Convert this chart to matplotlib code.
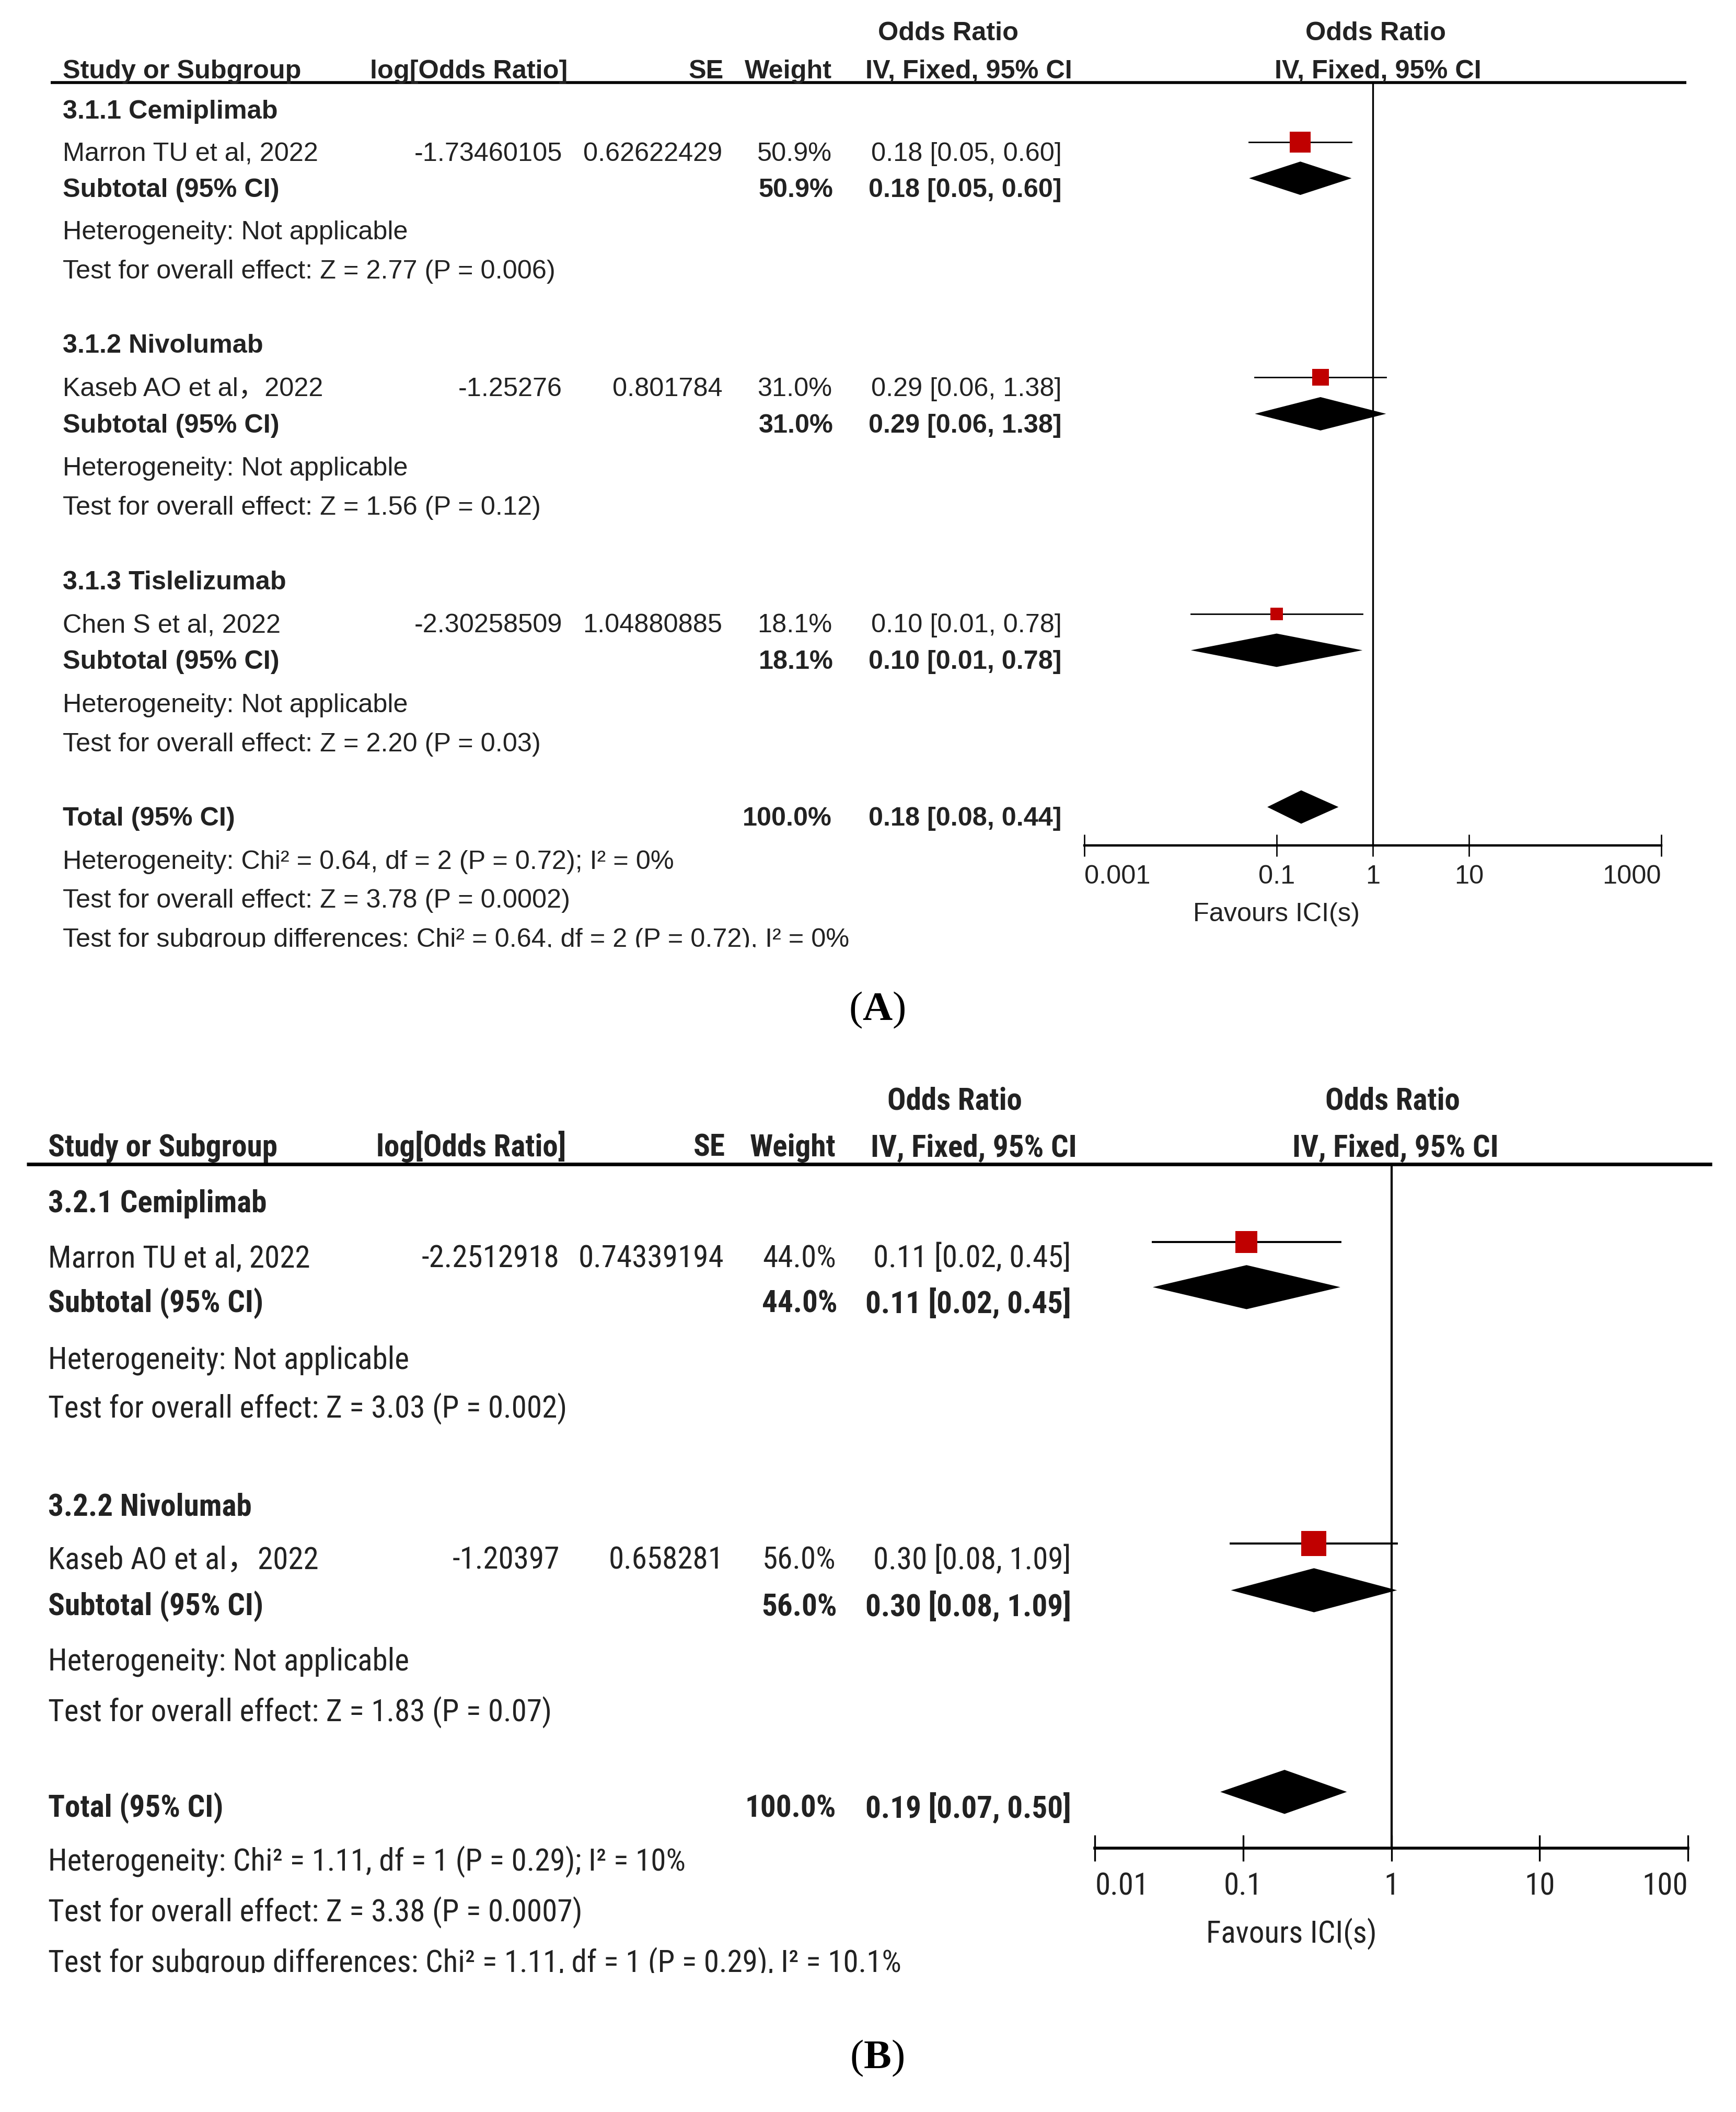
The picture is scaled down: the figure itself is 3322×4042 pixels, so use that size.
import matplotlib
matplotlib.use("Agg")
import matplotlib.pyplot as plt
import matplotlib.transforms as mtransforms
from matplotlib import font_manager
import numpy as np

# layout units: pixels of a 1300 px wide copy of the figure
W = 1300
H = 4042 / (3322 / W)

# ---------------- panel A data ----------------
a_groups = ["3.1.1 Cemiplimab", "3.1.2 Nivolumab", "3.1.3 Tislelizumab"]
a_studies = ["Marron TU et al, 2022", "Kaseb AO et al，2022", "Chen S et al, 2022"]
a_logor = [-1.73460105, -1.25276, -2.30258509]
a_se = [0.62622429, 0.801784, 1.04880885]
a_weight = [50.9, 31.0, 18.1]
a_ci_text = ["0.18 [0.05, 0.60]", "0.29 [0.06, 1.38]", "0.10 [0.01, 0.78]"]
a_z_text = ["Z = 2.77 (P = 0.006)", "Z = 1.56 (P = 0.12)", "Z = 2.20 (P = 0.03)"]
a_total = [0.18, 0.08, 0.44]
a_total_text = "0.18 [0.08, 0.44]"
a_het = "Heterogeneity: Chi² = 0.64, df = 2 (P = 0.72); I² = 0%"
a_overall = "Test for overall effect: Z = 3.78 (P = 0.0002)"
a_subdiff = "Test for subgroup differences: Chi² = 0.64, df = 2 (P = 0.72), I² = 0%"
a_ticks = [0.001, 0.1, 1, 10, 1000]
a_ticklabels = ["0.001", "0.1", "1", "10", "1000"]

# ---------------- panel B data ----------------
b_groups = ["3.2.1 Cemiplimab", "3.2.2 Nivolumab"]
b_studies = ["Marron TU et al, 2022", "Kaseb AO et al，2022"]
b_logor = [-2.2512918, -1.20397]
b_se = [0.74339194, 0.658281]
b_weight = [44.0, 56.0]
b_ci_text = ["0.11 [0.02, 0.45]", "0.30 [0.08, 1.09]"]
b_z_text = ["Z = 3.03 (P = 0.002)", "Z = 1.83 (P = 0.07)"]
b_total = [0.19, 0.07, 0.50]
b_total_text = "0.19 [0.07, 0.50]"
b_het = "Heterogeneity: Chi² = 1.11, df = 1 (P = 0.29); I² = 10%"
b_overall = "Test for overall effect: Z = 3.38 (P = 0.0007)"
b_subdiff = "Test for subgroup differences: Chi² = 1.11, df = 1 (P = 0.29), I² = 10.1%"
b_ticks = [0.01, 0.1, 1, 10, 100]
b_ticklabels = ["0.01", "0.1", "1", "10", "100"]

RED = "#c00000"
TXT = "#222222"


def pick_condensed():
    fl = font_manager.fontManager.ttflist
    names = {f.name for f in fl}
    for n in ["Liberation Sans Narrow", "Roboto Condensed", "Noto Sans Condensed",
              "Open Sans Condensed", "DejaVu Sans Condensed"]:
        if n in names:
            return n, "normal"
    narrowish = ("condensed", "semi-condensed", "extra-condensed", "ultra-condensed")
    for pref in ["Noto Sans", "Roboto", "Liberation Sans", "DejaVu Sans"]:
        for f in fl:
            if f.name == pref and f.stretch in narrowish:
                return f.name, f.stretch
    return "Liberation Sans", "normal"


cond_font, cond_stretch = pick_condensed()

plt.rcParams["mathtext.fontset"] = "custom"
plt.rcParams["mathtext.rm"] = "Liberation Serif"
plt.rcParams["mathtext.bf"] = "Liberation Serif:bold"

fig = plt.figure(figsize=(33.22, 40.42), dpi=100)
renderer = fig.canvas.get_renderer()


def fit_size(family, stretch, sample, target):
    # font size so that sample text is as wide as in the reference
    tt = fig.text(0, 0, sample, fontsize=40, family=family, stretch=stretch)
    w = tt.get_window_extent(renderer).width
    tt.remove()
    return 40 * target * (3322 / W) / w


def panel(box, xlim, ylim, groups, studies, logor, se, weight, ci_text, z_text,
          total, total_text, het, overall, subdiff, ticks, ticklabels, L):
    fam = [L["font"], "Noto Sans CJK SC", "DejaVu Sans"]
    st = L["stretch"]
    fs = fit_size(fam, st, "Marron TU et al, 2022", L["sample_w"])
    x0, x1 = box
    ax = fig.add_axes([x0 / W, 1 - ylim[0] / H, (x1 - x0) / W, (ylim[0] - ylim[1]) / H])
    ax.set_xscale("log")
    ax.set_xlim(*xlim)
    ax.set_ylim(*ylim)
    ax.patch.set_visible(False)
    for s in ["top", "left", "right"]:
        ax.spines[s].set_visible(False)
    ax.spines["bottom"].set_position(("data", L["axis_y"]))
    ax.spines["bottom"].set_linewidth(L["axis_lw"])
    ax.set_yticks([])
    ax.set_xticks(ticks)
    ax.set_xticklabels(ticklabels, fontsize=fs, family=fam, stretch=st, color=TXT)
    ax.minorticks_off()
    ax.tick_params(axis="x", direction="inout", length=L["tick_len"], width=L["axis_lw"] * 0.6,
                   pad=L["pad"])
    lab = ax.get_xticklabels()
    lab[0].set_ha("left")
    lab[-1].set_ha("right")

    tr = mtransforms.blended_transform_factory(
        mtransforms.Affine2D().scale(1 / W, 1) + fig.transFigure, ax.transData)

    def t(x, y, s, ha="left", bold=False):
        return ax.text(x, y, s, transform=tr, ha=ha, va="baseline", fontsize=fs, family=fam,
                       stretch=st, fontweight="bold" if bold else "normal", color=TXT)

    c = L["cols"]
    # header
    t(c["or_c"], L["h1"], "Odds Ratio", ha="center", bold=True)
    t(c["plot_c"], L["h1"], "Odds Ratio", ha="center", bold=True)
    t(c["study"], L["h2"], "Study or Subgroup", bold=True)
    t(c["logor_h"], L["h2"], "log[Odds Ratio]", ha="right", bold=True)
    t(c["se_h"], L["h2"], "SE", ha="right", bold=True)
    t(c["w"], L["h2"], "Weight", ha="right", bold=True)
    t(c["ci_h"], L["h2"], "IV, Fixed, 95% CI", bold=True)
    t(c["plot_c"] + 2, L["h2"], "IV, Fixed, 95% CI", ha="center", bold=True)
    ax.plot([c["line0"], c["line1"]], [L["hline"], L["hline"]], transform=tr, color="black",
            lw=L["hline_lw"], clip_on=False, solid_capstyle="butt")
    ax.vlines(1, L["hline"], L["axis_y"], color="black", lw=L["null_lw"])

    dy = L["dy"]
    h = L["dh"]
    for i, g in enumerate(groups):
        ys = L["study"][i]
        t(c["study"], L["head"][i], g, bold=True)
        t(c["study"], ys, studies[i])
        t(c["logor"], ys, str(logor[i]), ha="right")
        t(c["se"], ys, str(se[i]), ha="right")
        t(c["w"], ys, f"{weight[i]:.1f}%", ha="right")
        t(c["ci"], ys, ci_text[i], ha="right")
        yb = L["sub"][i]
        t(c["study"], yb, "Subtotal (95% CI)", bold=True)
        t(c["w"] + 1, yb, f"{weight[i]:.1f}%", ha="right", bold=True)
        t(c["ci"], yb, ci_text[i], ha="right", bold=True)
        t(c["study"], L["het"][i], "Heterogeneity: Not applicable")
        t(c["study"], L["test"][i], "Test for overall effect: " + z_text[i])

        est = np.exp(logor[i])
        lo = np.exp(logor[i] - 1.96 * se[i])
        hi = np.exp(logor[i] + 1.96 * se[i])
        ax.plot([lo, hi], [ys - dy, ys - dy], color="black", lw=L["ci_lw"], zorder=2)
        ax.scatter([est], [ys - dy], s=L["sq_k"] * weight[i], marker="s", color=RED,
                   linewidths=0, zorder=3)
        ax.fill([lo, est, hi, est], [yb - dy, yb - dy - h, yb - dy, yb - dy + h],
                color="black", lw=0)

    yt = L["total"]
    t(c["study"], yt, "Total (95% CI)", bold=True)
    t(c["w"], yt, "100.0%", ha="right", bold=True)
    t(c["ci"], yt, total_text, ha="right", bold=True)
    ax.fill([total[1], total[0], total[2], total[0]],
            [yt - dy, yt - dy - h, yt - dy, yt - dy + h], color="black", lw=0)
    t(c["study"], L["t_het"], het)
    t(c["study"], L["t_overall"], overall)
    # the source image is cropped through this last line
    last = t(c["study"], L["t_sub"], subdiff)
    clip = mtransforms.TransformedBbox(
        mtransforms.Bbox.from_extents(0, 1 - (L["t_sub"] + 0.5) / H, 1, 1), fig.transFigure)
    last.set_clip_on(True)
    last.set_clip_box(clip)
    t(c["fav"], L["fav_y"], "Favours ICI(s)", ha="center")
    return ax


LA = dict(
    font="Liberation Sans", stretch="normal", sample_w=191,
    cols=dict(study=47, logor=421, logor_h=425, se=541, se_h=542, w=623, ci=795, ci_h=648,
              or_c=710, plot_c=1030, line0=38, line1=1263, fav=956),
    h1=30, h2=58.7, hline=62, hline_lw=4.0, axis_y=633, axis_lw=3.2, null_lw=2.4,
    tick_len=30, pad=12, ci_lw=2.0, sq_k=17.0, dy=14, dh=12.5,
    head=[88.8, 264.2, 441.3], study=[120.5, 296.6, 473.7], sub=[147.5, 323.9, 501],
    het=[179.2, 356.3, 533.4], test=[208.6, 385.6, 562.8],
    total=618.4, t_het=650.8, t_overall=679.7, t_sub=709.1, fav_y=690,
)

LB = dict(
    font=cond_font, stretch=cond_stretch, sample_w=196,
    cols=dict(study=36, logor=419, logor_h=424, se=542, se_h=543, w=626, ci=802, ci_h=652,
              or_c=715, plot_c=1043, line0=20, line1=1282, fav=967),
    h1=831, h2=866, hline=872, hline_lw=5.0, axis_y=1384, axis_lw=4.0, null_lw=3.0,
    tick_len=36, pad=14, ci_lw=2.8, sq_k=21.0, dy=19, dh=16.5,
    head=[908, 1135], study=[949, 1175], sub=[983, 1210],
    het=[1025, 1251], test=[1062, 1289],
    total=1361, t_het=1401, t_overall=1439, t_sub=1477, fav_y=1455,
)

panel((812, 1244), (0.001, 1000), (715, 0), a_groups, a_studies, a_logor, a_se, a_weight,
      a_ci_text, a_z_text, a_total, a_total_text, a_het, a_overall, a_subdiff,
      a_ticks, a_ticklabels, LA)
panel((820, 1264), (0.01, 100), (1500, 760), b_groups, b_studies, b_logor, b_se, b_weight,
      b_ci_text, b_z_text, b_total, b_total_text, b_het, b_overall, b_subdiff,
      b_ticks, b_ticklabels, LB)

# panel captions
fig.text(656.6 / W, 1 - 764 / H, r"($\mathbf{A}$)", ha="center", va="baseline", fontsize=57,
         family="Liberation Serif", color="black")
fig.text(656.6 / W, 1 - 1549 / H, r"($\mathbf{B}$)", ha="center", va="baseline", fontsize=57,
         family="Liberation Serif", color="black")

fig.savefig("out.png", dpi=100, facecolor="white")
